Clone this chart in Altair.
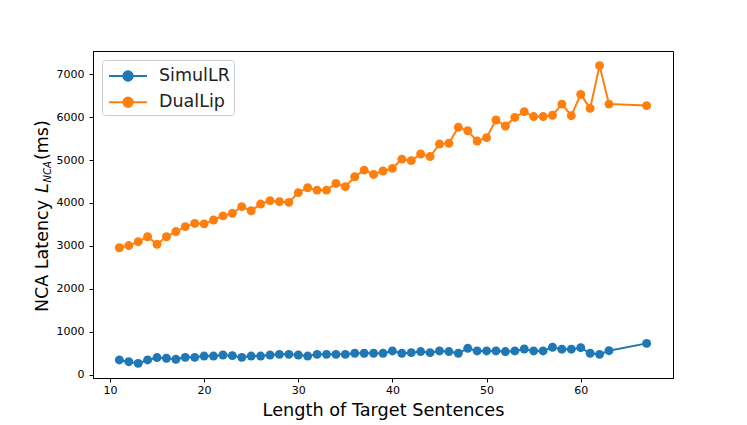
import altair as alt
import pandas as pd

lengths = list(range(11, 64)) + [67]

simullr = [350, 310, 270, 350, 405, 390, 365, 410, 410, 440,
           440, 465, 450, 410, 440, 440, 465, 480, 480, 465,
           440, 480, 480, 480, 480, 505, 505, 505, 505, 560,
           505, 520, 545, 520, 560, 545, 505, 620, 560, 560,
           560, 545, 560, 605, 560, 560, 645, 600, 600, 635,
           505, 480, 565, 735]

duallip = [2960, 3010, 3100, 3215, 3040, 3215, 3335, 3450, 3525, 3515,
           3605, 3700, 3760, 3915, 3820, 3975, 4055, 4030, 4015, 4240,
           4355, 4300, 4300, 4455, 4380, 4610, 4765, 4665, 4745, 4805,
           5020, 4985, 5140, 5080, 5370, 5390, 5760, 5680, 5440, 5520,
           5930, 5790, 5990, 6125, 6010, 6010, 6040, 6300, 6030, 6525,
           6200, 7195, 6300, 6265]

series_names = ["SimulLR", "DualLip"]
series_colors = ["#1f77b4", "#ff7f0e"]
x_ticks = [10, 20, 30, 40, 50, 60]
y_ticks = [0, 1000, 2000, 3000, 4000, 5000, 6000, 7000]

rows = []
for name, vals in zip(series_names, [simullr, duallip]):
    for x, v in zip(lengths, vals):
        rows.append({"len": x, "lat": v, "series": name})
df = pd.DataFrame(rows)

FONT = "DejaVu Sans"

legend = alt.Legend(
    title=None,
    orient="top-left",
    offset=9,
    padding=4,
    labelFontSize=17.5,
    labelFont=FONT,
    labelColor="#222222",
    symbolType="M-1.727,0H1.727M-0.427,0A0.427,0.427,0,1,0,0.427,0A0.427,0.427,0,1,0,-0.427,0Z",
    symbolSize=484,
    symbolStrokeWidth=2,
    symbolOffset=10,
    labelOffset=19,
    rowPadding=5.3,
    strokeColor="#cccccc",
    fillColor="white",
    cornerRadius=3,
)

color = alt.Color("series:N",
                  scale=alt.Scale(domain=series_names, range=series_colors),
                  sort=series_names, legend=legend)

xenc = alt.X("len:Q", scale=alt.Scale(domain=[8.2, 69.8], nice=False, zero=False),
             axis=alt.Axis(values=x_ticks, title="Length of Target Sentences",
                           titleFontSize=17.7, titleFontWeight="normal",
                           titlePadding=6, labelPadding=2, format="d"))
yenc = alt.Y("lat:Q", scale=alt.Scale(domain=[-70, 7535], nice=False, zero=False),
             axis=alt.Axis(values=y_ticks, title=None, labelPadding=5, format="d"))

base = alt.Chart(df)
lines = base.mark_line(strokeWidth=2).encode(x=xenc, y=yenc, color=color, detail="series:N")
points = base.mark_circle(size=80, opacity=1).encode(x=xenc, y=yenc, color=color)

def ytext(txt, y, x, size, style):
    return alt.Chart(pd.DataFrame({"t": [txt]})).mark_text(
        angle=270, align="left", baseline="alphabetic", font=FONT,
        fontSize=size, fontStyle=style, color="black"
    ).encode(text="t:N", x=alt.value(x), y=alt.value(y))

title_parts = [
    ytext("NCA Latency", 261, -45.5, 17.5, "normal"),
    ytext("L", 142, -45.5, 17.5, "italic"),
    ytext("NCA", 131.5, -42, 10, "italic"),
    ytext("(ms)", 109, -45.5, 17.5, "normal"),
]

chart = alt.layer(lines, points, *title_parts).properties(
    width=580, height=327,
    autosize=alt.AutoSizeParams(type="none"),
    padding={"left": 85, "top": 43, "right": 60, "bottom": 50},
).configure(font=FONT).configure_view(
    stroke="black", strokeWidth=1
).configure_axis(
    grid=False, domainColor="black", tickColor="black", labelColor="black",
    labelFontSize=11, tickSize=4, labelFont=FONT, titleFont=FONT,
    titleColor="black", domainWidth=1, tickWidth=1
)

chart.save("out.html", embed_options={"renderer": "svg", "actions": False})
